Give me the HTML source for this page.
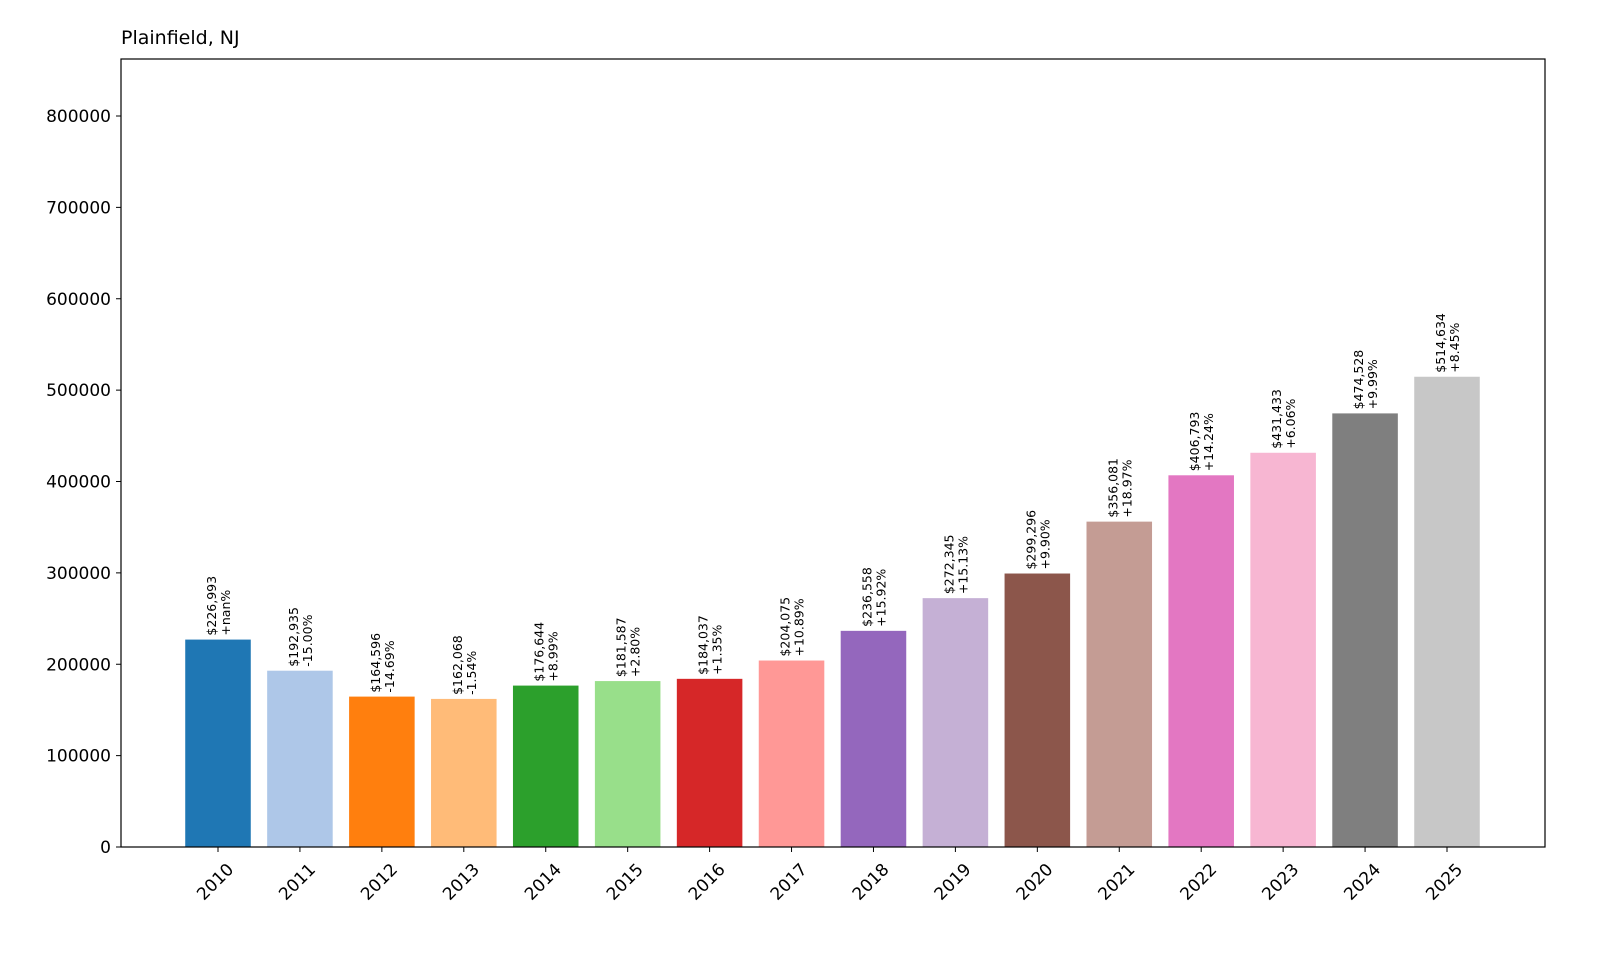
<!DOCTYPE html>
<html><head><meta charset="utf-8"><style>
body{margin:0;background:#fff;}
svg text{font-family:"DejaVu Sans","Liberation Sans",sans-serif;}
</style></head><body>
<svg id="chart" width="1600" height="960" xmlns="http://www.w3.org/2000/svg">
<rect width="1600" height="960" fill="#fff"/>
<text x="121" y="44" font-size="19" fill="#000">Plainfield, NJ</text>
<g id="bars"></g>
<g id="yaxis"></g>
<g id="xaxis"></g>
<rect x="121" y="59" width="1424" height="788" fill="none" stroke="#000" stroke-width="1.2"/>
</svg>
<script>
const years=["2010","2011","2012","2013","2014","2015","2016","2017","2018","2019","2020","2021","2022","2023","2024","2025"];
const values=[226993,192935,164596,162068,176644,181587,184037,204075,236558,272345,299296,356081,406793,431433,474528,514634];
const changes=["+nan%","-15.00%","-14.69%","-1.54%","+8.99%","+2.80%","+1.35%","+10.89%","+15.92%","+15.13%","+9.90%","+18.97%","+14.24%","+6.06%","+9.99%","+8.45%"];
const yTicks=[0,100000,200000,300000,400000,500000,600000,700000,800000];
const colors=["#1f77b4","#aec7e8","#ff7f0e","#ffbb78","#2ca02c","#98df8a","#d62728","#ff9896","#9467bd","#c5b0d5","#8c564b","#c49c94","#e377c2","#f7b6d2","#7f7f7f","#c7c7c7"];
const NS="http://www.w3.org/2000/svg";
const y=v=>847-v*(847-116)/800000;
const step=(1447-218)/15;
const x=i=>218+i*step;
const bw=step*0.8;
const bars=document.getElementById('bars'),ya=document.getElementById('yaxis'),xa=document.getElementById('xaxis');
function mk(t,a,p){const e=document.createElementNS(NS,t);for(const k in a)e.setAttribute(k,a[k]);p.appendChild(e);return e;}
values.forEach((v,i)=>{
 const r=mk('rect',{x:x(i)-bw/2,y:y(v),width:bw,height:847-y(v),fill:colors[i]},bars);
 
 
 const t=mk('text',{transform:`translate(${x(i)},${y(v)-4}) rotate(-90)`,'font-size':'12.5',fill:'#000'},bars);
 
 
 const a=mk('tspan',{x:0,dy:'-2'},t);a.textContent='$'+v.toLocaleString('en-US');
 const b=mk('tspan',{x:0,dy:'14'},t);b.textContent=changes[i];
 mk('line',{x1:x(i),x2:x(i),y1:847,y2:852,stroke:'#000'},xa);
 const tl=mk('text',{transform:`translate(${x(i)+6},${866}) rotate(-45)`,'font-size':'17','text-anchor':'end',fill:'#000'},xa);
 
 
 tl.textContent=years[i];
 tl.setAttribute('transform',`translate(${x(i)+8},${862}) rotate(-45) translate(0,12)`);
});
yTicks.forEach(v=>{
 mk('line',{x1:116,x2:121,y1:y(v),y2:y(v),stroke:'#000'},ya);
 const t=mk('text',{x:111,y:y(v)+6,'font-size':'17','text-anchor':'end',fill:'#000'},ya);
 
 
 t.textContent=v;
});
</script>
</body></html>
